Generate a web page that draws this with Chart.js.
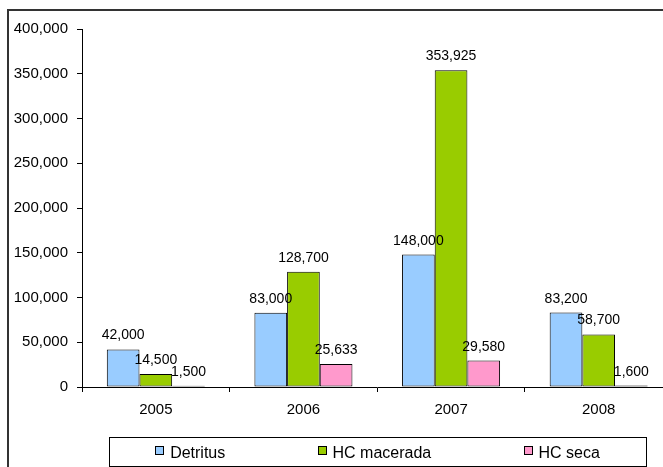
<!DOCTYPE html>
<html>
<head>
<meta charset="utf-8">
<script src="https://cdn.jsdelivr.net/npm/chart.js@4"></script>
<style>
    html, body { margin: 0; padding: 0; background: #fff; overflow: hidden; width: 663px; height: 467px; }
    #frame { position: absolute; left: 7px; top: 9px; width: 680px; height: 470px; border: 2px solid #333; }
    canvas { display: block; }
</style>
</head>
<body>
<div id="frame"><canvas id="chart" width="680" height="470"></canvas></div>
<script>
const years = ['2005', '2006', '2007', '2008'];
const seriesNames = ['Detritus', 'HC macerada', 'HC seca'];
const detritus = [42000, 83000, 148000, 83200];
const hcMacerada = [14500, 128700, 353925, 58700];
const hcSeca = [1500, 25633, 29580, 1600];
const yMax = 400000;
const yStep = 50000;

const FONT = 'Arial, "Liberation Sans", sans-serif';
const fmt = v => v.toLocaleString('en-US');

// value labels above each bar
const barLabels = {
    id: 'barLabels',
    afterDatasetsDraw(chart) {
        const ctx = chart.ctx;
        ctx.save();
        ctx.font = '14px ' + FONT;
        ctx.fillStyle = '#000';
        ctx.textAlign = 'center';
        ctx.textBaseline = 'alphabetic';
        chart.data.datasets.forEach((ds, i) => {
            chart.getDatasetMeta(i).data.forEach((bar, j) => {
                ctx.fillText(fmt(ds.data[j]), bar.x, bar.y - 10);
            });
        });
        ctx.restore();
    }
};

// boxed legend under the axis, items spread like excel does
const boxLegend = {
    id: 'boxLegend',
    afterDraw(chart) {
        const ctx = chart.ctx;
        const area = chart.chartArea;
        const left = area.left + 27;
        const right = area.right - 26.5;
        const top = area.bottom + 50;
        const height = 29;
        ctx.save();
        ctx.strokeStyle = '#000';
        ctx.lineWidth = 1;
        ctx.strokeRect(Math.round(left) + 0.5, Math.round(top) + 0.5, Math.round(right - left), height);

        ctx.font = '16px ' + FONT;
        ctx.textBaseline = 'alphabetic';
        ctx.textAlign = 'left';
        const marker = 9, gap = 6;
        const widths = chart.data.datasets.map(ds => marker + gap + ctx.measureText(ds.label).width);
        const total = widths.reduce((a, b) => a + b, 0);
        const pad = (right - left - total) / (2 * widths.length);
        let x = left + pad;
        chart.data.datasets.forEach((ds, i) => {
            const mx = Math.round(x);
            ctx.fillStyle = ds.backgroundColor;
            ctx.fillRect(mx, top + 9, marker, marker);
            ctx.strokeStyle = '#000';
            ctx.strokeRect(mx + 0.5, Math.round(top + 9) + 0.5, marker - 1, marker - 1);
            ctx.fillStyle = '#000';
            ctx.fillText(ds.label, x + marker + gap, top + 20.5);
            x += widths[i] + 2 * pad;
        });
        ctx.restore();
    }
};

const colors = ['#99CCFF', '#99CC00', '#FF99CC'];
const values = [detritus, hcMacerada, hcSeca];

new Chart(document.getElementById('chart'), {
    type: 'bar',
    data: {
        labels: years,
        datasets: seriesNames.map((name, i) => ({
            label: name,
            data: values[i],
            backgroundColor: colors[i],
            borderColor: '#000',
            borderWidth: 1,
            borderSkipped: false,
            categoryPercentage: 0.664,
            barPercentage: 1.0
        }))
    },
    options: {
        responsive: false,
        animation: false,
        layout: { padding: { top: 13, right: 16.5, bottom: 44, left: 0 } },
        plugins: {
            legend: { display: false },
            tooltip: { enabled: false }
        },
        scales: {
            x: {
                grid: { drawOnChartArea: false, tickLength: 5, color: '#000', offset: true },
                border: { color: '#000', width: 1 },
                ticks: { color: '#000', font: { family: FONT, size: 15 }, padding: 9 },
                afterFit(scale) { scale.height = 50; }
            },
            y: {
                min: 0,
                max: yMax,
                grid: { drawOnChartArea: false, tickLength: 5, color: '#000' },
                border: { color: '#000', width: 1 },
                ticks: {
                    stepSize: yStep,
                    color: '#000',
                    font: { family: FONT, size: 15 },
                    padding: 9,
                    callback: v => fmt(v)
                },
                afterFit(scale) { scale.width = 73; }
            }
        }
    },
    plugins: [barLabels, boxLegend]
});
</script>
</body>
</html>
